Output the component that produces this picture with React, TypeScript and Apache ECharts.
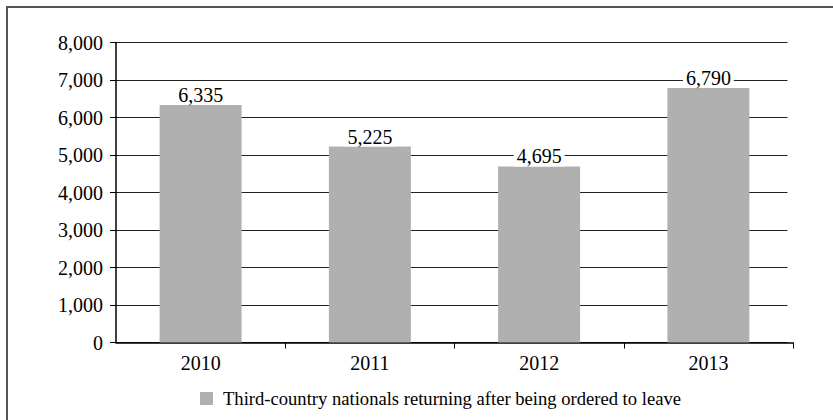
import React, { useEffect, useRef } from "react";
import * as echarts from "echarts";

const categories = ["2010", "2011", "2012", "2013"];
const values = [6335, 5225, 4695, 6790];
const seriesName = "Third-country nationals returning after being ordered to leave";
const yTicks = { min: 0, max: 8000, interval: 1000 };

const FONT = "Liberation Serif";

export default function App() {
  const ref = useRef<HTMLDivElement>(null);
  useEffect(() => {
    if (!ref.current) return;
    const chart = echarts.init(ref.current, null, { renderer: "svg" });
    const fmt = (v: number) => v.toLocaleString("en-US");
    chart.setOption({
      animation: false,
      textStyle: { fontFamily: FONT },
      graphic: [
        {
          type: "rect",
          shape: { x: 7, y: 7, width: 840, height: 430 },
          style: { fill: "none", stroke: "#555", lineWidth: 2 },
          z: 100,
        },
      ],
      legend: {
        left: 200,
        top: 389,
        padding: 0,
        itemWidth: 13,
        itemHeight: 13,
        itemGap: 10,
        icon: "rect",
        textStyle: { fontFamily: FONT, fontSize: 18.6, color: "#000", padding: [0, 0, 0, 5] },
        data: [seriesName],
      },
      grid: [
        { left: 116, right: 40, top: 42.5, bottom: 77.5 },
        { left: 116, right: 45.5, top: 42.5, bottom: 77.5 },
      ],
      xAxis: [
        {
          type: "category",
          gridIndex: 0,
          data: categories,
          axisLine: { lineStyle: { color: "#000", width: 1.5 } },
          axisTick: {
            show: true,
            length: 6,
            lineStyle: { color: "#000" },
            interval: (index: number) => index !== 0,
          },
          axisLabel: { fontFamily: FONT, fontSize: 20, color: "#000", margin: 10 },
        },
        { type: "value", gridIndex: 1, show: false, min: 0, max: 1 },
      ],
      yAxis: [
        {
          type: "value",
          gridIndex: 0,
          min: yTicks.min,
          max: yTicks.max,
          interval: yTicks.interval,
          axisLine: { show: true, lineStyle: { color: "#000", width: 1.5 } },
          axisTick: { show: true, length: 6, lineStyle: { color: "#000" } },
          splitLine: { show: false },
          axisLabel: {
            fontFamily: FONT,
            fontSize: 20,
            color: "#000",
            margin: 13,
            formatter: (v: number) => fmt(v),
          },
        },
        {
          type: "value",
          gridIndex: 1,
          min: yTicks.min,
          max: yTicks.max,
          interval: yTicks.interval,
          axisLine: { show: false },
          axisTick: { show: false },
          axisLabel: { show: false },
          splitLine: { show: true, lineStyle: { color: "#222", width: 1 } },
        },
      ],
      series: [
        {
          name: seriesName,
          type: "bar",
          xAxisIndex: 0,
          yAxisIndex: 0,
          data: values,
          barWidth: 82,
          itemStyle: { color: "#b0b0b0" },
          z: 5,
          label: {
            show: true,
            position: "top",
            distance: 0,
            fontFamily: FONT,
            fontSize: 20,
            color: "#000",
            backgroundColor: "#fff",
            padding: [0, 3],
            formatter: (p: any) => fmt(p.value),
          },
        },
        {
          type: "line",
          xAxisIndex: 1,
          yAxisIndex: 1,
          data: [],
          silent: true,
        },
      ],
    });
    return () => chart.dispose();
  }, []);
  return (
    <div
      ref={ref}
      style={{ position: "fixed", left: 0, top: 0, width: 833, height: 420, background: "#fff" }}
    />
  );
}
